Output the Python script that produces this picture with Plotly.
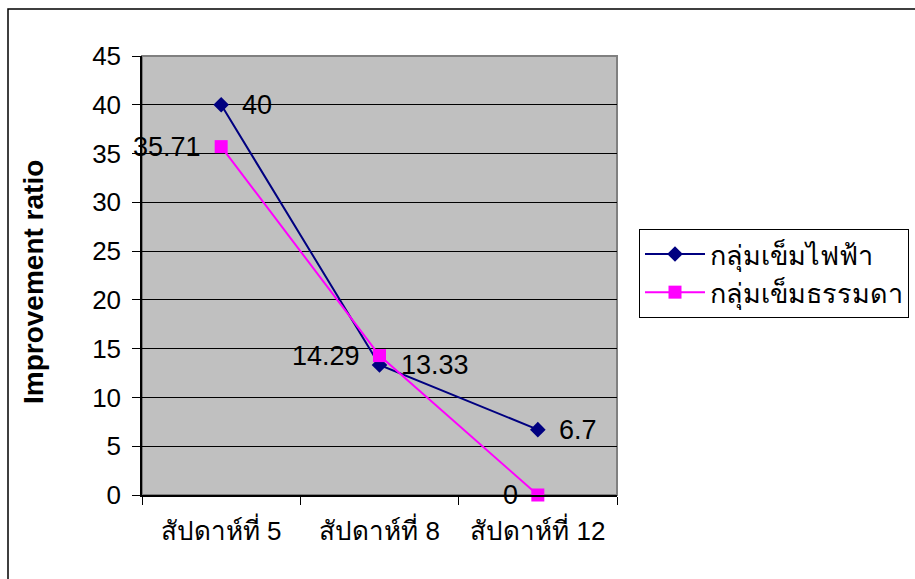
import plotly.graph_objects as go

# Week categories (Thai) and improvement ratios for the two needle groups
categories = ["สัปดาห์ที่ 5", "สัปดาห์ที่ 8", "สัปดาห์ที่ 12"]
electric_name = "กลุ่มเข็มไฟฟ้า"
electric_values = [40, 13.33, 6.7]
electric_labels = ["40", "13.33", "6.7"]
normal_name = "กลุ่มเข็มธรรมดา"
normal_values = [35.71, 14.29, 0]
normal_labels = ["35.71", "14.29", "0"]
y_ticks = [0, 5, 10, 15, 20, 25, 30, 35, 40, 45]

W, H = 915, 579
L, R, T, B = 142, 298, 56, 84
PW, PH = W - L - R, H - T - B

FONT = "Liberation Sans, Arial, Noto Sans, sans-serif"

fig = go.Figure()

fig.add_trace(go.Scatter(
    x=categories, y=electric_values, name=electric_name,
    mode="lines+markers",
    line=dict(color="#000080", width=2),
    marker=dict(symbol="diamond", size=12, color="#000080"),
    cliponaxis=False,
))
fig.add_trace(go.Scatter(
    x=categories, y=normal_values, name=normal_name,
    mode="lines+markers",
    line=dict(color="#FF00FF", width=2),
    marker=dict(symbol="square", size=13, color="#FF00FF"),
    cliponaxis=False,
))

# Value labels: electric group to the right of each point, normal group to the left
for cat, val, lab in zip(categories, electric_values, electric_labels):
    fig.add_annotation(x=cat, y=val, text=lab, showarrow=False,
                       xanchor="left", yanchor="middle", xshift=19,
                       font=dict(size=27, color="black", family=FONT))
for cat, val, lab in zip(categories, normal_values, normal_labels):
    fig.add_annotation(x=cat, y=val, text=lab, showarrow=False,
                       xanchor="right", yanchor="middle", xshift=-18,
                       font=dict(size=27, color="black", family=FONT))

# Gray frame of the plot area (top and right edges)
fig.add_shape(type="rect", xref="paper", yref="paper", x0=0, x1=1, y0=0, y1=1,
              line=dict(color="#808080", width=2), layer="below")

# Outer chart frame (left and top edges visible)
fig.add_shape(type="rect", xref="paper", yref="paper",
              x0=(8 - L) / PW, x1=(W + 20 - L) / PW,
              y0=-(H + 20 - (H - B)) / PH, y1=1 + (T - 9) / PH,
              line=dict(color="black", width=1.5), layer="below")

# Vertical axis title
fig.add_annotation(text="<b>Improvement ratio</b>", xref="paper", yref="paper",
                   x=(33 - L) / PW, y=1 - (282 - T) / PH,
                   textangle=-90, showarrow=False,
                   font=dict(size=28, color="black", family=FONT),
                   xanchor="center", yanchor="middle")

fig.update_layout(
    width=W, height=H,
    margin=dict(l=L, r=R, t=T, b=B, autoexpand=False),
    paper_bgcolor="white",
    plot_bgcolor="#C0C0C0",
    font=dict(family=FONT, color="black"),
    showlegend=True,
    legend=dict(
        x=(909 - L) / PW, y=1 - (229 - T) / PH,
        xanchor="right", yanchor="top",
        bordercolor="black", borderwidth=1, bgcolor="white",
        font=dict(size=27, color="black", family=FONT),
        itemwidth=60, tracegroupgap=0,
    ),
    xaxis=dict(
        type="category", range=[-0.5, 2.5],
        showgrid=False, showline=True, linecolor="black", linewidth=1.5,
        ticks="outside", tickson="boundaries", ticklen=8, tickcolor="black",
        tickfont=dict(size=26, color="black", family=FONT),
        ticklabelstandoff=12, zeroline=False,
    ),
    yaxis=dict(
        range=[0, 45], tickvals=y_ticks, ticktext=[str(v) for v in y_ticks],
        showgrid=True, gridcolor="black", gridwidth=1,
        showline=True, linecolor="black", linewidth=1.5,
        ticks="outside", ticklen=8, tickcolor="black",
        tickfont=dict(size=26, color="black", family=FONT),
        ticklabelstandoff=6, zeroline=False,
    ),
)

fig.write_html("out.html")
